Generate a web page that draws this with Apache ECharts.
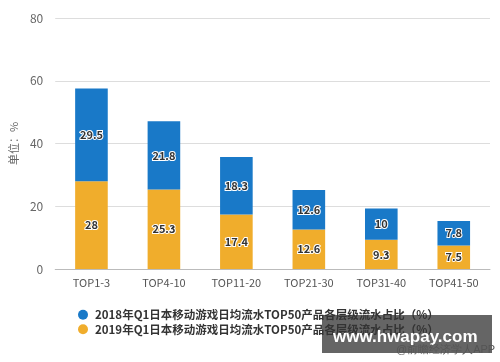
<!DOCTYPE html>
<html><head><meta charset="utf-8">
<script src="https://cdn.jsdelivr.net/npm/echarts@6/dist/echarts.min.js"></script>
<style>html,body{margin:0;padding:0;background:#fff}#c{width:500px;height:362px}</style>
</head><body><div id="c"></div>
<script>
const categories = ['TOP1-3','TOP4-10','TOP11-20','TOP21-30','TOP31-40','TOP41-50'];
const values2019 = [28, 25.3, 17.4, 12.6, 9.3, 7.5];
const values2018 = [29.5, 21.8, 18.3, 12.6, 10, 7.8];
const seriesNames = ['2018年Q1日本移动游戏日均流水TOP50产品各层级流水占比（%）','2019年Q1日本移动游戏日均流水TOP50产品各层级流水占比（%）'];
const yTicks = {min:0, max:80, interval:20};
const unitLabel = '单位：%';

const labelStyle = {show:true, position:'inside', color:'#333', fontSize:11, fontWeight:'bold',
  textBorderColor:'#fff', textBorderWidth:2, fontFamily:'Noto Sans CJK SC'};
const chart = echarts.init(document.getElementById('c'));
chart.setOption({
  animation:false,
  textStyle:{fontFamily:'Noto Sans CJK SC'},
  grid:{left:55, right:10, top:18, bottom:93},
  legend:{orient:'vertical', left:73, top:304, itemGap:3, icon:'circle', itemWidth:10, itemHeight:10, z:10,
    data:[seriesNames[0], seriesNames[1]],
    textStyle:{color:'#333', fontSize:11.5, fontWeight:'bold', padding:[0,0,0,2]}},
  xAxis:{type:'category', data:categories,
    axisLine:{lineStyle:{color:'#bbb'}},
    axisTick:{alignWithLabel:true, lineStyle:{color:'#bbb'}, length:5},
    axisLabel:{color:'#555', fontSize:11, margin:8}},
  yAxis:{type:'value', min:yTicks.min, max:yTicks.max, interval:yTicks.interval,
    name:unitLabel, nameLocation:'middle', nameGap:32, nameRotate:90,
    nameTextStyle:{color:'#666', fontSize:11},
    axisLine:{show:false}, axisTick:{show:false},
    axisLabel:{color:'#666', fontSize:12, margin:12},
    splitLine:{lineStyle:{color:'#ddd'}}},
  series:[
    {name:seriesNames[1], type:'bar', stack:'a', data:values2019, barWidth:'45%',
      itemStyle:{color:'#f0ad2c'}, label:labelStyle},
    {name:seriesNames[0], type:'bar', stack:'a', data:values2018, barWidth:'45%',
      itemStyle:{color:'#1979c8'}, label:labelStyle}
  ],
  graphic:[
    {type:'rect', left:322, top:315, shape:{width:170, height:38}, style:{fill:'rgba(80,80,80,0.88)'}, z:0},
    {type:'text', left:333, top:329, style:{text:'www.hwapay.com', fill:'#fff', fontSize:17, fontWeight:'bold', fontFamily:'Liberation Sans'}, z:20},
    {type:'text', left:396, top:344, style:{text:'@前瞻经济学人APP', fill:'#555', fontSize:11}, z:20}
  ]
});
</script></body></html>
